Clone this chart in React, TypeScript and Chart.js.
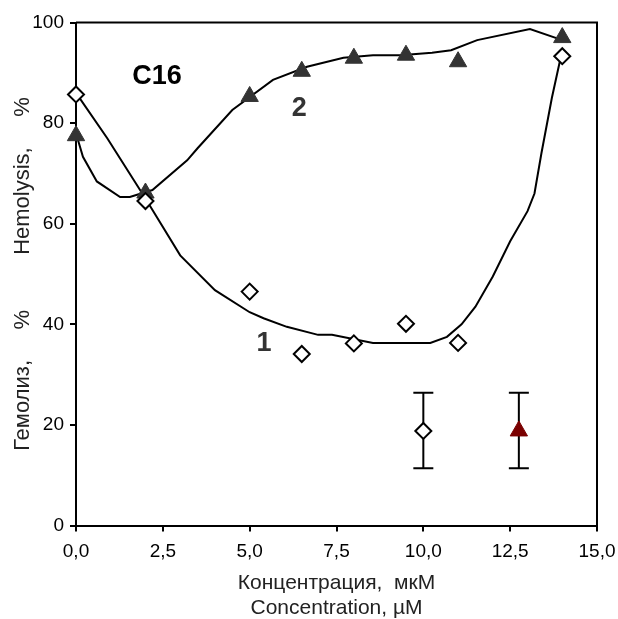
import React, { useEffect, useRef } from "react";
import { Chart, registerables } from "chart.js";

Chart.register(...registerables);

// Measured points (concentration, µM)
const pointX = [0, 2, 5, 6.5, 8, 9.5, 11, 14];
const series1 = [85.7, 64.5, 46.5, 34.1, 36.2, 40.1, 36.3, 93.3]; // diamonds, curve 1
const series2 = [77.5, 66.1, 85.3, 90.3, 92.9, 93.5, 92.2, 97]; // triangles, curve 2

// Fitted curves as drawn
const fit1X = [0, 0.9, 2, 3, 4, 5, 5.4, 6.07, 6.97, 7.37, 8.55, 10.2, 10.68, 11.1, 11.5, 12, 12.5, 13, 13.2, 13.4, 13.7, 14];
const fit1Y = [86, 77, 65, 53.7, 46.8, 42.4, 41.2, 39.5, 37.9, 37.9, 36.3, 36.3, 37.5, 40, 43.5, 49.5, 56.5, 62.5, 66, 74, 85, 94.5];
const fit2X = [0, 0.2, 0.6, 1.27, 1.55, 2.2, 3.2, 3.5, 4.5, 5.67, 6.65, 7.7, 8.55, 9.33, 10.25, 10.8, 11.55, 13.07, 14];
const fit2Y = [78, 73.3, 68.4, 65.3, 65.3, 66.7, 72.6, 75, 82.6, 88.6, 91.2, 93, 93.5, 93.5, 94, 94.5, 96.5, 98.7, 96.5];

// Error-bar markers
const errX = [10, 12.75];
const errY = [18.8, 18.8];
const errLow = [11.4, 11.4];
const errHigh = [26.4, 26.4];

// Axis ticks
const xTicks = [0, 2.5, 5, 7.5, 10, 12.5, 15];
const yTicks = [0, 20, 40, 60, 80, 100];

// In-plot labels
const noteText = ["C16", "2", "1"];
const noteX = [2.33, 6.43, 5.41];
const noteY = [89.2, 82.9, 36.2];

const FONT = "'Liberation Sans', Arial, sans-serif";

export default function App() {
  const ref = useRef<HTMLCanvasElement | null>(null);

  useEffect(() => {
    document.body.style.margin = "0";
    document.body.style.overflow = "hidden";
    const canvas = ref.current!;

    const framePlugin = {
      id: "frame",
      beforeDatasetsDraw(chart: any) {
        const { ctx, chartArea: a } = chart;
        ctx.save();
        ctx.strokeStyle = "#000";
        ctx.lineWidth = 2;
        ctx.beginPath();
        ctx.moveTo(a.left, a.top);
        ctx.lineTo(a.right, a.top);
        ctx.lineTo(a.right, a.bottom);
        ctx.stroke();
        ctx.restore();
      },
    };

    const errPlugin = {
      id: "errbars",
      beforeDatasetsDraw(chart: any) {
        const { ctx } = chart;
        const xs = chart.scales.x;
        const ys = chart.scales.y;
        ctx.save();
        ctx.strokeStyle = "#000";
        ctx.lineWidth = 2;
        for (let i = 0; i < errX.length; i++) {
          const px = xs.getPixelForValue(errX[i]);
          const pLo = ys.getPixelForValue(errLow[i]);
          const pHi = ys.getPixelForValue(errHigh[i]);
          ctx.beginPath();
          ctx.moveTo(px, pLo);
          ctx.lineTo(px, pHi);
          ctx.moveTo(px - 10, pLo);
          ctx.lineTo(px + 10, pLo);
          ctx.moveTo(px - 10, pHi);
          ctx.lineTo(px + 10, pHi);
          ctx.stroke();
        }
        ctx.restore();
      },
    };

    const notePlugin = {
      id: "notes",
      afterDatasetsDraw(chart: any) {
        const { ctx } = chart;
        const xs = chart.scales.x;
        const ys = chart.scales.y;
        ctx.save();
        ctx.font = `bold 27px ${FONT}`;
        ctx.textAlign = "center";
        ctx.textBaseline = "middle";
        for (let i = 0; i < noteText.length; i++) {
          ctx.fillStyle = i === 0 ? "#000" : "#333";
          ctx.fillText(noteText[i], xs.getPixelForValue(noteX[i]), ys.getPixelForValue(noteY[i]));
        }
        ctx.restore();
      },
    };

    const chart = new Chart(canvas, {
      type: "scatter",
      data: {
        datasets: [
          {
            data: pointX.map((x, i) => ({ x, y: series1[i] })),
            pointStyle: "rectRot",
            pointRadius: 8,
            backgroundColor: "#fff",
            borderColor: "#000",
            borderWidth: 2,
            clip: false,
            order: 0,
          },
          {
            data: pointX.map((x, i) => ({ x, y: series2[i] })),
            pointStyle: "triangle",
            pointRadius: 10,
            backgroundColor: "#333",
            borderColor: "#333",
            borderWidth: 1,
            clip: false,
            order: 0,
          },
          {
            data: [{ x: errX[0], y: errY[0] }],
            pointStyle: "rectRot",
            pointRadius: 8,
            backgroundColor: "#fff",
            borderColor: "#000",
            borderWidth: 2,
            clip: false,
            order: 0,
          },
          {
            data: [{ x: errX[1], y: errY[1] }],
            pointStyle: "triangle",
            pointRadius: 10,
            backgroundColor: "#7a0000",
            borderColor: "#7a0000",
            borderWidth: 1,
            clip: false,
            order: 0,
          },
          {
            data: fit1X.map((x, i) => ({ x, y: fit1Y[i] })),
            showLine: true,
            pointRadius: 0,
            borderColor: "#000",
            borderWidth: 2,
            tension: 0,
            clip: false,
            order: 1,
          },
          {
            data: fit2X.map((x, i) => ({ x, y: fit2Y[i] })),
            showLine: true,
            pointRadius: 0,
            borderColor: "#000",
            borderWidth: 2,
            tension: 0,
            clip: false,
            order: 1,
          },
        ],
      },
      options: {
        responsive: false,
        animation: false,
        events: [],
        layout: { padding: { left: 0, right: 21, top: 22.5, bottom: 0 } },
        plugins: { legend: { display: false }, tooltip: { enabled: false } },
        scales: {
          x: {
            type: "linear",
            min: 0,
            max: 15,
            afterFit: (s: any) => {
              s.height = 93.5;
              s.paddingLeft = 0;
              s.paddingRight = 0;
            },
            afterBuildTicks: (s: any) => {
              s.ticks = xTicks.map((v) => ({ value: v }));
            },
            ticks: {
              padding: 9,
              color: "#000",
              font: { family: FONT, size: 19 },
              maxRotation: 0,
              callback: (v: any) => Number(v).toFixed(1).replace(".", ","),
            },
            grid: { display: true, drawOnChartArea: false, drawTicks: true, tickLength: 6, color: "#000", lineWidth: 2 },
            border: { display: true, color: "#000", width: 2 },
            title: {
              display: true,
              text: ["Концентрация,  мкМ", "Concentration, µM"],
              color: "#222",
              font: { family: FONT, size: 21, lineHeight: 1.19 },
              padding: { top: 0, bottom: -1.5 },
            },
          },
          y: {
            type: "linear",
            min: 0,
            max: 100,
            afterFit: (s: any) => {
              s.width = 76;
              s.paddingTop = 0;
              s.paddingBottom = 0;
            },
            afterBuildTicks: (s: any) => {
              s.ticks = yTicks.map((v) => ({ value: v }));
            },
            ticks: {
              padding: 6,
              color: "#000",
              font: { family: FONT, size: 19 },
            },
            grid: { display: true, drawOnChartArea: false, drawTicks: true, tickLength: 6, color: "#000", lineWidth: 2 },
            border: { display: true, color: "#000", width: 2 },
            title: {
              display: true,
              text: "Гемолиз,     %         Hemolysis,     %",
              color: "#222",
              font: { family: FONT, size: 22, lineHeight: 1.2 },
              padding: { top: 10, bottom: 0 },
            },
          },
        },
      },
      plugins: [errPlugin, framePlugin, notePlugin],
    });

    return () => chart.destroy();
  }, []);

  return <canvas ref={ref} width={618} height={619} style={{ display: "block" }} />;
}
